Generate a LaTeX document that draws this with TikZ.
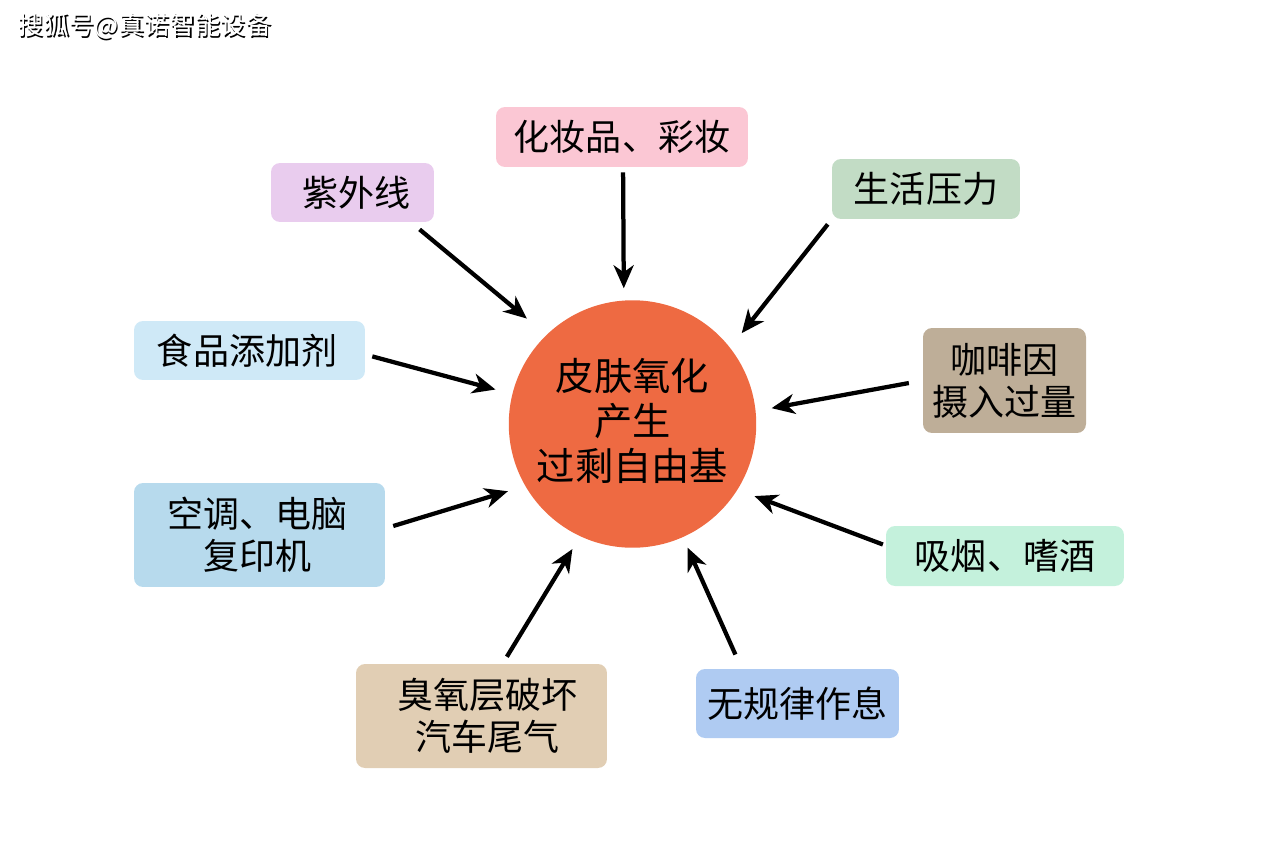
\documentclass[tikz,border=0pt]{standalone}
\usepackage{fontspec}
\setmainfont{Noto Sans CJK SC}
\usetikzlibrary{arrows.meta}
\tikzstyle{cause} = [rectangle, rounded corners=0.18cm, inner sep=0pt, align=center, text=black, font=\fontsize{20.5pt}{24pt}\selectfont]
\tikzstyle{skinnode} = [circle, minimum size=4.95cm, inner sep=0pt, align=center, fill=skincol, text=black, font=\fontsize{21.8pt}{25.6pt}\selectfont]
\tikzstyle{arrow} = [line width=0.085cm, -{Stealth[length=0.46cm, width=0.4cm, inset=0.14cm]}]
\definecolor{skincol}{HTML}{EE6A42}
\definecolor{makeupcol}{HTML}{FBC7D4}
\definecolor{uvcol}{HTML}{E9CCEE}
\definecolor{lifecol}{HTML}{C2DCC5}
\definecolor{coffeecol}{HTML}{BEAE98}
\definecolor{smokecol}{HTML}{C4F1DC}
\definecolor{habitcol}{HTML}{AFCBF2}
\definecolor{ozonecol}{HTML}{E1CEB4}
\definecolor{accol}{HTML}{B7DAED}
\definecolor{foodcol}{HTML}{CFE9F7}
\newcommand{\marktext}{搜狐号@真诺智能设备}
\begin{document}
\begin{tikzpicture}[x=0.02cm, y=-0.02cm]
\useasboundingbox (0,0) rectangle (1267,845);
\node (mark) at (145,27) [inner sep=0pt, font=\fontsize{14.5pt}{17pt}\selectfont] {\rlap{\raisebox{-0.7pt}{\hspace{0.7pt}\color{black}\marktext}}\textcolor{white}{\marktext}};

\node (skin) [skinnode] at (632.5,424) {皮肤氧化\\产生\\过剩自由基\rule[-5.4pt]{0pt}{0pt}};
\node (makeup) [cause, fill=makeupcol, minimum width=5.04cm, minimum height=1.2cm] at (622,137) {化妆品、彩妆};
\node (uv) [cause, fill=uvcol, minimum width=3.26cm, minimum height=1.18cm] at (352.5,192.5) {\hspace*{4.6pt}紫外线};
\node (life) [cause, fill=lifecol, minimum width=3.76cm, minimum height=1.2cm] at (926,189) {生活压力};
\node (coffee) [cause, fill=coffeecol, minimum width=3.26cm, minimum height=2.1cm] at (1004.5,380.5) {咖啡因\\摄入过量};
\node (smoke) [cause, fill=smokecol, minimum width=4.76cm, minimum height=1.2cm] at (1005,556) {吸烟、嗜酒};
\node (habit) [cause, fill=habitcol, minimum width=4.06cm, minimum height=1.38cm] at (797.5,703.5) {无规律作息};
\node (ozone) [cause, fill=ozonecol, minimum width=5.02cm, minimum height=2.08cm] at (481.5,716) {\hspace*{7.2pt}臭氧层破坏\\\hspace*{7.2pt}汽车尾气};
\node (ac) [cause, fill=accol, minimum width=5.02cm, minimum height=2.08cm] at (259.5,535) {空调、电脑\hspace*{2.3pt}\\复印机\hspace*{2.3pt}};
\node (food) [cause, fill=foodcol, minimum width=4.62cm, minimum height=1.18cm] at (249.5,350.5) {食品添加剂\hspace*{2.8pt}};

\draw [arrow, shorten <=2.8pt, shorten >=6.8pt] (makeup.-88) -- (skin.94.3);
\draw [arrow, shorten <=6.3pt, shorten >=14.4pt] (uv.-27) -- (skin.134);
\draw [arrow, shorten <=3.6pt, shorten >=10.5pt] (life.south west) -- (skin.38);
\draw [arrow, shorten <=8pt, shorten >=9.1pt] (coffee.west) -- (skin.6);
\draw [arrow, shorten <=1.7pt, shorten >=10.2pt] (smoke.175) -- (skin.-32);
\draw [arrow, shorten <=8.8pt, shorten >=6.4pt] (habit.148) -- (skin.-66);
\draw [arrow, shorten <=4.6pt, shorten >=8.4pt] (ozone.68) -- (skin.245);
\draw [arrow, shorten <=4.7pt, shorten >=10.2pt] (ac.3) -- (skin.210);
\draw [arrow, shorten <=4.1pt, shorten >=9.8pt] (food.-2) -- (skin.166);
\end{tikzpicture}
\end{document}
